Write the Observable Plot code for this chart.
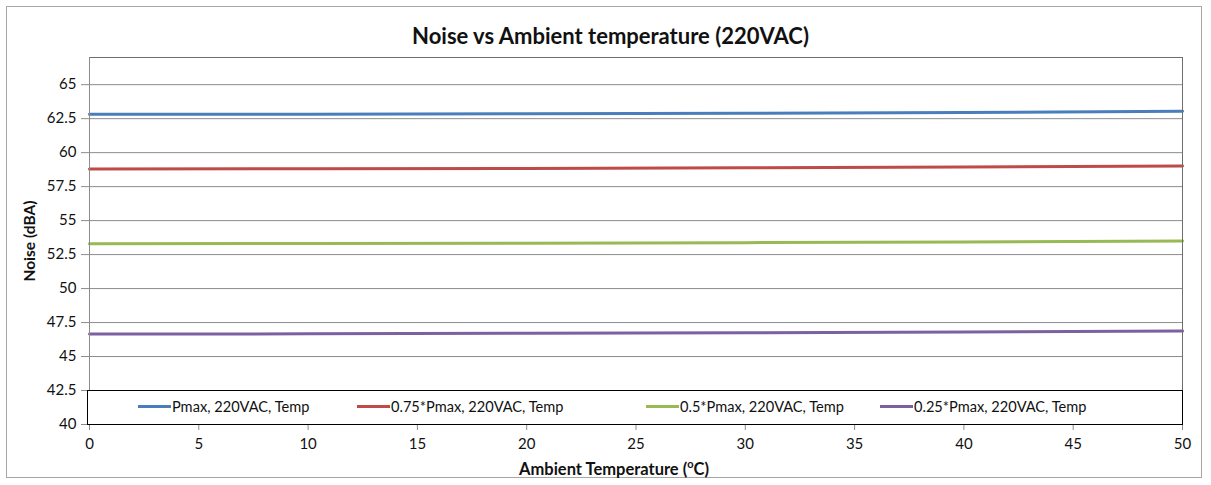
<!DOCTYPE html>
<html>
<head>
<meta charset="utf-8">
<script src="https://cdn.jsdelivr.net/npm/d3@7"></script>
<script src="https://cdn.jsdelivr.net/npm/@observablehq/plot@0.6"></script>
<style>
  body { margin: 0; background: #fff; font-family: Lato, "Open Sans", sans-serif; }
  #wrap { position: relative; width: 1211px; height: 485px; overflow: hidden; }
  #border { position: absolute; left: 6px; top: 6px; width: 1196px; height: 472px; border: 1px solid #a6a6a6; box-sizing: border-box; }
  #title { position: absolute; left: 0; width: 1221px; top: 22px; text-align: center; font-weight: bold; font-size: 22px; color: #111; }
  #chart { position: absolute; left: 0; top: 0; }
  #ylab { position: absolute; left: 29px; top: 241px; transform: translate(-50%, -50%) rotate(-90deg); font-weight: bold; font-size: 15.5px; white-space: nowrap; color: #111; }
  #xlab { position: absolute; left: 614px; top: 468px; transform: translate(-50%, -50%); font-weight: bold; font-size: 16.5px; white-space: nowrap; color: #111; }
  #xlab sup { font-size: 11px; }
  #legend { position: absolute; left: 87px; top: 390px; width: 1096px; height: 35px; border: 1px solid #000; background: #fff; box-sizing: border-box; font-size: 14.6px; color: #111; }
  .item { position: absolute; top: 7px; display: flex; align-items: center; white-space: nowrap; }
  .sw { width: 33px; height: 3px; margin-right: 1px; }
</style>
</head>
<body>
<div id="wrap">
  <div id="border"></div>
  <div id="chart"></div>
  <div id="title">Noise vs Ambient temperature (220VAC)</div>
  <div id="ylab">Noise (dBA)</div>
  <div id="xlab">Ambient Temperature (<sup>o</sup>C)</div>
  <div id="legend"></div>
</div>
<script>
const temps = [0, 10, 20, 30, 40, 50];
const pmax = [62.82, 62.83, 62.86, 62.9, 62.95, 63.04];
const p075 = [58.8, 58.81, 58.84, 58.89, 58.94, 59.02];
const p050 = [53.3, 53.31, 53.34, 53.38, 53.42, 53.5];
const p025 = [46.65, 46.67, 46.71, 46.75, 46.8, 46.87];
const seriesNames = ["Pmax, 220VAC, Temp", "0.75*Pmax, 220VAC, Temp", "0.5*Pmax, 220VAC, Temp", "0.25*Pmax, 220VAC, Temp"];
const seriesColors = ["#4a7ebb", "#be4b48", "#98b954", "#7d60a0"];
const yTicks = [40, 42.5, 45, 47.5, 50, 52.5, 55, 57.5, 60, 62.5, 65];
const xTicks = [0, 5, 10, 15, 20, 25, 30, 35, 40, 45, 50];

const allValues = [pmax, p075, p050, p025];
const data = [];
seriesNames.forEach((s, i) => temps.forEach((t, j) => data.push({series: s, temp: t, noise: allValues[i][j]})));

const chart = Plot.plot({
  width: 1211,
  height: 485,
  marginLeft: 89,
  marginRight: 29,
  marginTop: 57,
  marginBottom: 61,
  style: {fontFamily: "Lato, 'Open Sans', sans-serif", fontSize: "15px", color: "#111", background: "transparent"},
  x: {domain: [0, 50]},
  y: {domain: [40, 67]},
  color: {domain: seriesNames, range: seriesColors},
  marks: [
    Plot.ruleY(yTicks.filter(d => d > 40), {stroke: "#8c8c8c", strokeWidth: 1}),
    Plot.line(data, {x: "temp", y: "noise", z: "series", stroke: "series", strokeWidth: 3}),
    Plot.frame({stroke: "#6e6e6e"}),
    Plot.ruleX([0], {stroke: "#8c8c8c"}),
    Plot.ruleY([40], {stroke: "#8c8c8c"}),
    Plot.axisY({ticks: yTicks, tickFormat: d => String(d), tickSize: 8, tickPadding: 5, label: null, stroke: "#8c8c8c"}),
    Plot.axisX({ticks: xTicks, tickFormat: d => String(d), tickSize: 6, tickPadding: 8, label: null, stroke: "#8c8c8c"})
  ]
});
document.getElementById("chart").appendChild(chart);

const legend = document.getElementById("legend");
const lefts = [50, 269, 558, 792];
seriesNames.forEach((s, i) => {
  const it = document.createElement("div");
  it.className = "item";
  it.style.left = lefts[i] + "px";
  const sw = document.createElement("div");
  sw.className = "sw";
  sw.style.background = seriesColors[i];
  const tx = document.createElement("span");
  tx.textContent = s;
  it.appendChild(sw);
  it.appendChild(tx);
  legend.appendChild(it);
});
</script>
</body>
</html>
